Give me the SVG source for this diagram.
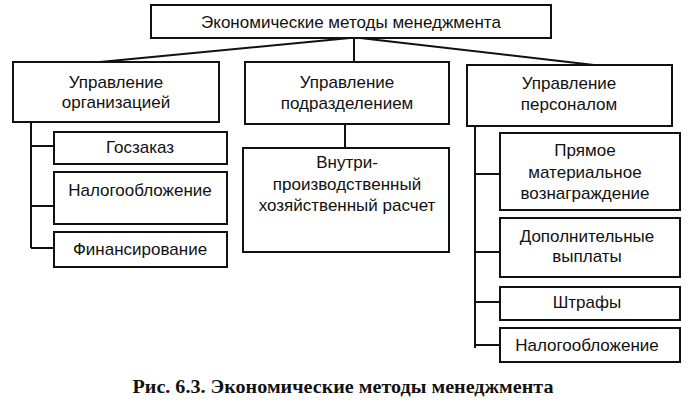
<svg xmlns="http://www.w3.org/2000/svg" width="694" height="404" viewBox="0 0 694 404">
<style>
.box{fill:#fff;stroke:#111;stroke-width:2}
.ln{fill:none;stroke:#111;stroke-width:2}
text{font-family:"Liberation Sans",Arial,sans-serif;font-size:17px;fill:#111;text-anchor:middle}
.cap{font-family:"Liberation Serif","Times New Roman",serif;font-weight:bold;font-size:19px}
</style>
<rect width="694" height="404" fill="#fff"/>
<g id="connectors">
<path class="ln" d="M350 38 L100 62 M354 38 V62 M360 38 L594 65"/>
<path class="ln" d="M31 122 V248 M31 146 H54 M31 206 H54 M31 248 H54"/>
<path class="ln" d="M345 124 V148"/>
<path class="ln" d="M475 126 V348 M475 174 H500 M475 252 H500 M475 302 H500 M475 345 H500"/>
</g>
<g id="root"><rect class="box" x="151" y="5" width="400" height="33"/><text x="351" y="28">Экономические методы менеджмента</text></g>
<g id="org"><rect class="box" x="13" y="62" width="206" height="60"/><text x="116" y="88">Управление</text><text x="116" y="108">организацией</text></g>
<g id="div"><rect class="box" x="245" y="62" width="204" height="62"/><text x="347" y="88">Управление</text><text x="347" y="109">подразделением</text></g>
<g id="pers"><rect class="box" x="467" y="65" width="205" height="61"/><text x="569" y="89">Управление</text><text x="569" y="110">персоналом</text></g>
<g id="goszakaz"><rect class="box" x="54" y="132" width="173" height="32"/><text x="140" y="153">Госзаказ</text></g>
<g id="nalog1"><rect class="box" x="54" y="172" width="173" height="52"/><text x="140" y="196">Налогообложение</text></g>
<g id="finans"><rect class="box" x="54" y="232" width="173" height="35"/><text x="140" y="255">Финансирование</text></g>
<g id="vnutri"><rect class="box" x="243" y="148" width="206" height="104"/><text x="347" y="168">Внутри-</text><text x="347" y="190">производственный</text><text x="347" y="211">хозяйственный расчет</text></g>
<g id="pryamoe"><rect class="box" x="500" y="133" width="180" height="77"/><text x="585" y="156">Прямое</text><text x="585" y="178">материальное</text><text x="585" y="199">вознаграждение</text></g>
<g id="dop"><rect class="box" x="500" y="218" width="180" height="59"/><text x="587" y="242">Дополнительные</text><text x="587" y="262">выплаты</text></g>
<g id="shtrafy"><rect class="box" x="500" y="287" width="180" height="33"/><text x="587" y="308">Штрафы</text></g>
<g id="nalog2"><rect class="box" x="500" y="328" width="180" height="34"/><text x="587" y="351">Налогообложение</text></g>
<text class="cap" x="343" y="393" textLength="421" lengthAdjust="spacingAndGlyphs">Рис. 6.3. Экономические методы менеджмента</text>
</svg>
